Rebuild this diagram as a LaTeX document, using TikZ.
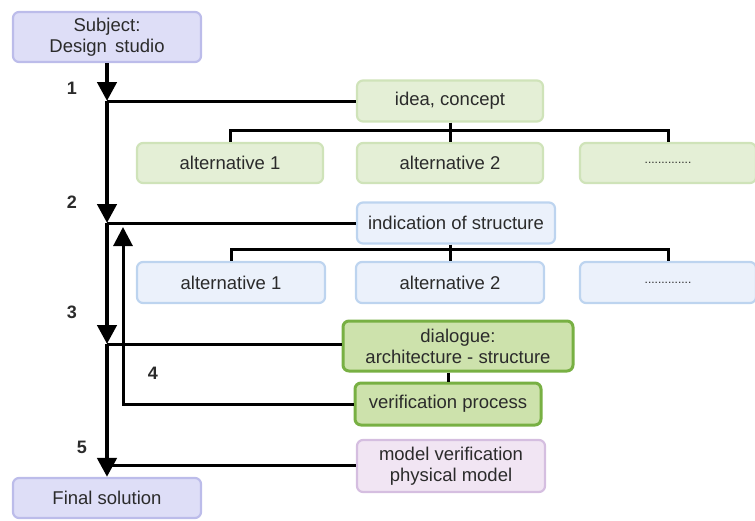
\documentclass[tikz,border=0pt]{standalone}
\usepackage{fontspec}
\setmainfont{Liberation Sans}
\usetikzlibrary{arrows.meta}
\definecolor{lavfill}{HTML}{DEDEF7}
\definecolor{lavdraw}{HTML}{BCBCEA}
\definecolor{gfill}{HTML}{E4EFD6}
\definecolor{gdraw}{HTML}{CFE3B9}
\definecolor{bfill}{HTML}{EBF1FB}
\definecolor{bdraw}{HTML}{BDD4EF}
\definecolor{dgfill}{HTML}{CDE2AC}
\definecolor{dgdraw}{HTML}{78B043}
\definecolor{pfill}{HTML}{F1E5F3}
\definecolor{pdraw}{HTML}{D5BEE0}
\definecolor{txt}{HTML}{2B2B2B}
\begin{document}
\begin{tikzpicture}[x=1pt,y=-1pt,
  box/.style={rounded corners=6pt, line width=2.2pt, align=center, text=txt,
    font=\fontsize{18.5}{21}\selectfont, inner sep=0pt},
  lav/.style={box, fill=lavfill, draw=lavdraw},
  gbox/.style={box, fill=gfill, draw=gdraw},
  bbox/.style={box, fill=bfill, draw=bdraw},
  dgbox/.style={box, fill=dgfill, draw=dgdraw, line width=3pt},
  pbox/.style={box, fill=pfill, draw=pdraw},
  conn/.style={line width=3pt, black},
  mainl/.style={line width=4.5pt, black, -{Triangle[width=19pt,length=19pt]}},
  num/.style={font=\bfseries\fontsize{18}{20}\selectfont, text=txt},
  dots/.style={font=\fontsize{12}{14}\selectfont}
]
\useasboundingbox (0,0) rectangle (755,520);

% nodes
\node[lav, minimum width=188, minimum height=50] (subj) at (107,37) {Subject:\\Design\, studio};
\node[gbox, minimum width=186, minimum height=41] (idea) at (450,101) {idea, concept};
\node[gbox, minimum width=186, minimum height=40] (ga1) at (230,163) {alternative 1};
\node[gbox, minimum width=186, minimum height=40] (ga2) at (450,163) {alternative 2};
\node[gbox, minimum width=176, minimum height=40] (gd) at (668,163) {\tikzset{}\fontsize{12}{14}\selectfont ..............};
\node[bbox, minimum width=198, minimum height=41] (ind) at (456,223) {indication of structure};
\node[bbox, minimum width=188, minimum height=41] (ba1) at (231,282.5) {alternative 1};
\node[bbox, minimum width=188, minimum height=41] (ba2) at (450,282.5) {alternative 2};
\node[bbox, minimum width=176, minimum height=41] (bd) at (668,282.5) {\fontsize{12}{14}\selectfont ..............};
\node[dgbox, minimum width=230, minimum height=50] (dia) at (458,346) {dialogue:\\architecture - structure};
\node[dgbox, minimum width=186, minimum height=42] (ver) at (448,404) {verification process};
\node[pbox, minimum width=188, minimum height=52] (mod) at (451,466) {model verification\\physical model};
\node[lav, minimum width=188, minimum height=40] (fin) at (107,498) {Final solution};

% junction coordinates on main line
\coordinate (j1) at (107,101);
\coordinate (j2) at (107,223);
\coordinate (j3) at (107,344);
\coordinate (j5) at (107,465);
\coordinate (r1) at (123,404);
\coordinate (r2) at (123,227);

% brackets
\draw[conn] (ga1.north) -- ++(0,-11) -| (gd.north);
\draw[conn] (idea.south) -- (ga2.north);
\draw[conn] (ba1.north) -- ++(0,-11) -| (bd.north);
\draw[conn] (ind.south -| ba2.north) -- (ba2.north);
\draw[conn] (dia.south -| ver.north) -- (ver.north);

% horizontal connectors
\draw[conn] (j1) -- (j1 -| idea.west);
\draw[conn] (j2) -- (j2 -| ind.west);
\draw[conn] (j3) -- (j3 -| dia.west);
\draw[conn] (j5) -- (j5 -| mod.west);

% feedback loop
\draw[conn, -{Triangle[width=19pt,length=19pt]}] (ver.west) -- (r1) -- (r2);

% main line
\draw[mainl] (subj.south) -- (j1);
\draw[mainl] (j1) -- (j2);
\draw[mainl] (j2) -- (j3);
\draw[mainl] (j3) -- (fin.north);

% numbers
\node[num] (n1) at (72,88) {1};
\node[num] (n2) at (72,202) {2};
\node[num] (n3) at (72,312) {3};
\node[num] (n4) at (153,373) {4};
\node[num] (n5) at (82,447) {5};
\end{tikzpicture}
\end{document}
